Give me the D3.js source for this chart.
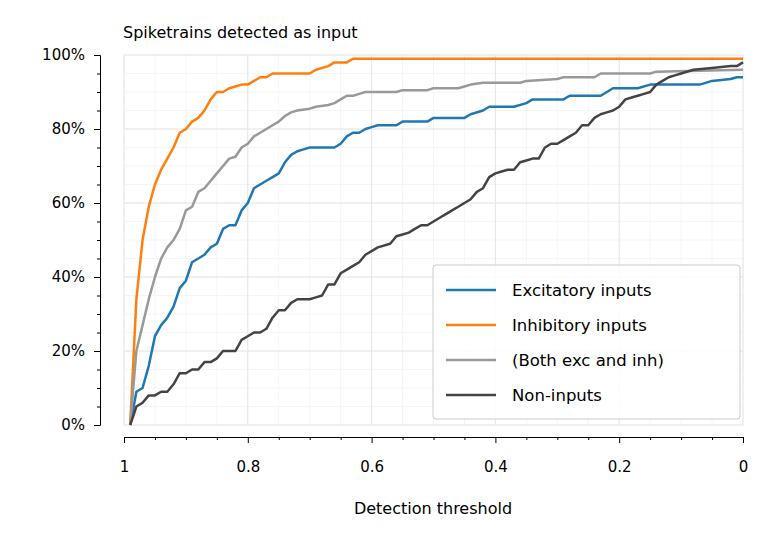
<!DOCTYPE html><html><head><meta charset="utf-8">
<script src="https://cdn.jsdelivr.net/npm/d3@7"></script>
<style>body{margin:0;background:#fff}text{font-family:"DejaVu Sans",sans-serif}</style></head><body>
<svg id="c" width="770" height="540"></svg>
<script>
const excitatory=[[0.99,0],[0.98,9],[0.97,10],[0.96,16],[0.95,24],[0.94,27],[0.93,29],[0.92,32],[0.91,37],[0.90,39],[0.89,44],[0.88,45],[0.87,46],[0.86,48],[0.85,49],[0.84,53],[0.83,54],[0.82,54],[0.81,58],[0.80,60],[0.79,64],[0.78,65],[0.77,66],[0.76,67],[0.75,68],[0.74,71],[0.73,73],[0.72,74],[0.71,74.5],[0.70,75],[0.66,75],[0.65,76],[0.64,78],[0.63,79],[0.62,79],[0.61,80],[0.60,80.5],[0.59,81],[0.56,81],[0.55,82],[0.51,82],[0.50,83],[0.45,83],[0.44,84],[0.42,85],[0.41,86],[0.37,86],[0.35,87],[0.34,88],[0.29,88],[0.28,89],[0.23,89],[0.22,90],[0.21,91],[0.17,91],[0.15,92],[0.07,92],[0.05,93],[0.02,93.5],[0.01,94],[0,94]];
const inhibitory=[[0.99,0],[0.98,34],[0.97,50],[0.96,59],[0.95,65],[0.94,69],[0.93,72],[0.92,75],[0.91,79],[0.90,80],[0.89,82],[0.88,83],[0.87,85],[0.86,88],[0.85,90],[0.84,90],[0.83,91],[0.82,91.5],[0.81,92],[0.80,92],[0.79,93],[0.78,94],[0.77,94],[0.76,95],[0.70,95],[0.69,96],[0.67,97],[0.66,98],[0.64,98],[0.63,99],[0,99]];
const both=[[0.99,0],[0.98,20],[0.97,27],[0.96,34],[0.95,40],[0.94,45],[0.93,48],[0.92,50],[0.91,53],[0.90,58],[0.89,59],[0.88,63],[0.87,64],[0.86,66],[0.85,68],[0.84,70],[0.83,72],[0.82,72.5],[0.81,75],[0.80,76],[0.79,78],[0.78,79],[0.77,80],[0.76,81],[0.75,82],[0.74,83.5],[0.73,84.5],[0.72,85],[0.70,85.5],[0.69,86],[0.67,86.5],[0.66,87],[0.65,88],[0.64,89],[0.63,89],[0.62,89.5],[0.61,90],[0.56,90],[0.55,90.5],[0.51,90.5],[0.50,91],[0.46,91],[0.45,91.5],[0.44,92],[0.42,92.5],[0.36,92.5],[0.35,93],[0.30,93.5],[0.29,94],[0.24,94],[0.23,95],[0.15,95],[0.14,95.5],[0,96]];
const nonInputs=[[0.99,0],[0.98,5],[0.97,6],[0.96,8],[0.95,8],[0.94,9],[0.93,9],[0.92,11],[0.91,14],[0.90,14],[0.89,15],[0.88,15],[0.87,17],[0.86,17],[0.85,18],[0.84,20],[0.82,20],[0.81,23],[0.80,24],[0.79,25],[0.78,25],[0.77,26],[0.76,29],[0.75,31],[0.74,31],[0.73,33],[0.72,34],[0.70,34],[0.69,34.5],[0.68,35],[0.67,38],[0.66,38],[0.65,41],[0.64,42],[0.63,43],[0.62,44],[0.61,46],[0.60,47],[0.59,48],[0.57,49],[0.56,51],[0.55,51.5],[0.54,52],[0.53,53],[0.52,54],[0.51,54],[0.50,55],[0.49,56],[0.48,57],[0.47,58],[0.46,59],[0.45,60],[0.44,61],[0.43,63],[0.42,64],[0.41,67],[0.40,68],[0.39,68.5],[0.38,69],[0.37,69],[0.36,71],[0.35,71.5],[0.34,72],[0.33,72],[0.32,75],[0.31,76],[0.30,76],[0.29,77],[0.28,78],[0.27,79],[0.26,81],[0.25,81],[0.24,83],[0.23,84],[0.22,84.5],[0.21,85],[0.20,86],[0.19,88],[0.18,88.5],[0.17,89],[0.16,89.5],[0.15,90],[0.14,92],[0.13,93],[0.12,94],[0.11,94.5],[0.10,95],[0.08,96],[0.05,96.5],[0.02,97],[0.01,97],[0,98]];
const seriesNames=["Excitatory inputs","Inhibitory inputs","(Both exc and inh)","Non-inputs"];
const seriesColors=["#1f77b4","#ff7f0e","#999999","#444444"];
const xTicks=[1,0.8,0.6,0.4,0.2,0];
const yTicks=[0,20,40,60,80,100];
const all=[excitatory,inhibitory,both,nonInputs];

const svg=d3.select("#c");
const x=d3.scaleLinear().domain([1,0]).range([124,743]);
const y=d3.scaleLinear().domain([0,100]).range([425,55]);
const g=svg.append("g");
const minorX=d3.range(0,1.0001,0.05), minorY=d3.range(0,100.001,5);
g.selectAll(".mx").data(minorX).join("line").attr("x1",d=>x(d)).attr("x2",d=>x(d)).attr("y1",55).attr("y2",425).attr("stroke","#f3f3f3").attr("stroke-width",0.8);
g.selectAll(".my").data(minorY).join("line").attr("y1",d=>y(d)).attr("y2",d=>y(d)).attr("x1",124).attr("x2",743).attr("stroke","#f3f3f3").attr("stroke-width",0.8);
g.selectAll(".Mx").data(xTicks).join("line").attr("x1",d=>x(d)).attr("x2",d=>x(d)).attr("y1",55).attr("y2",425).attr("stroke","#e6e6e6").attr("stroke-width",1);
g.selectAll(".My").data(yTicks).join("line").attr("y1",d=>y(d)).attr("y2",d=>y(d)).attr("x1",124).attr("x2",743).attr("stroke","#e6e6e6").attr("stroke-width",1);
svg.append("g").attr("transform","translate(100,0)")
 .call(d3.axisLeft(y).tickValues(yTicks).tickFormat(d=>d+"%").tickSize(6).tickPadding(9));
svg.append("g").attr("transform","translate(100,0)").call(d3.axisLeft(y).tickValues(minorY.filter(v=>v%20)).tickFormat("").tickSize(3)).select(".domain").remove();
svg.append("g").attr("transform","translate(0,437)")
 .call(d3.axisBottom(x).tickValues(xTicks).tickFormat(d3.format("~g")).tickSize(6).tickPadding(18));
svg.append("g").attr("transform","translate(0,437)").call(d3.axisBottom(x).tickValues(minorX.filter(v=>Math.round(v*100)%20)).tickFormat("").tickSize(3)).select(".domain").remove();
svg.selectAll(".domain").attr("stroke","#000").attr("stroke-width",1);
svg.selectAll(".tick line").attr("stroke","#000");
svg.selectAll(".tick text").attr("font-size",15).attr("fill","#000");
svg.append("text").attr("x",433).attr("y",514).attr("text-anchor","middle").attr("font-size",16).text("Detection threshold");
svg.append("text").attr("x",123).attr("y",38).attr("font-size",16).text("Spiketrains detected as input");
const line=d3.line().x(d=>x(d[0])).y(d=>y(d[1]));
all.forEach((s,i)=>svg.append("path").datum(s).attr("d",line).attr("fill","none").attr("stroke",seriesColors[i]).attr("stroke-width",2.5).attr("stroke-linejoin","round"));
const lg=svg.append("g");
lg.append("rect").attr("x",433).attr("y",265).attr("width",307).attr("height",154).attr("rx",3).attr("fill","rgba(255,255,255,0.85)").attr("stroke","#ccc");
seriesNames.forEach((n,i)=>{const yy=290+i*35;
 lg.append("line").attr("x1",446).attr("x2",496).attr("y1",yy).attr("y2",yy).attr("stroke",seriesColors[i]).attr("stroke-width",2.5);
 lg.append("text").attr("x",512).attr("y",yy+6).attr("font-size",16.5).text(n);});
</script></body></html>
